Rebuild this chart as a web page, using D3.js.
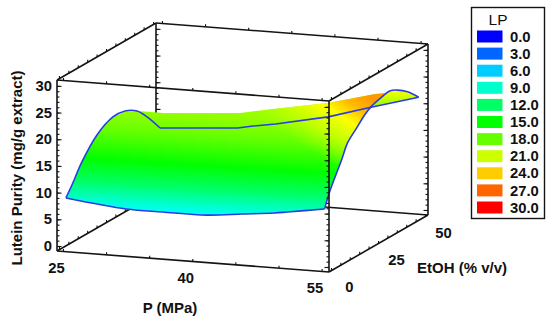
<!DOCTYPE html>
<html><head><meta charset="utf-8">
<script src="https://cdn.jsdelivr.net/npm/d3@7"></script>
<style>html,body{margin:0;padding:0;background:#fff}svg{display:block}text{font-family:"Liberation Sans",Arial,sans-serif;fill:#111}</style>
</head><body><div id="chart"></div>
<script>
// ---------- data ----------
const legendTitle = "LP";
const legendValues = [0,3,6,9,12,15,18,21,24,27,30];
const legendColors = ["#0000ff","#0066ff","#00ccff","#00ffcc","#00ff66","#00ff00","#66ff00","#ccff00","#ffcc00","#ff6600","#ff0000"];
const pTicks = [25,40,55];
const eTicks = [0,25,50];
const zTicks = [0,5,10,15,20,25,30];
const pLabel = "P (MPa)", eLabel = "EtOH (% v/v)", zLabel = "Lutein Purity (mg/g extract)";

// front edge, EtOH = 0
const frontP  = [25,32,36.2,41.3,45.5,49.2,50.7,55];
const frontLP = [8.83,7.64,7.6,7.65,8.37,9.03,9.4,10.5];
// edge at P = 25
const leftE  = [0,3.2,8.5,16.5,25,31.4,37.8,43.1,50];
const leftLP = [8.83,10.6,13.85,17.28,18.93,18.76,17.45,15.27,11.79];
// edge at P = 55
const rightE  = [0,2.66,9.04,12.2,17,21.3,25,30.3,34.6,38.8,44.1,50];
const rightLP = [10.5,13.15,17.85,20.4,22.2,23.8,24.7,25.3,25.6,24.9,23.5,21.3];
// back edge, EtOH = 50
const backP  = [25,34,35.8,38.4,44.5,49.2,55];
const backLP = [11.79,12.9,13.5,14.2,16.3,18.6,21.3];
// crest of the surface, seen as its upper silhouette, EtOH = 32
const crestE = 32;
const crestP  = [25,26.4,29.3,38.2,42.3,48.4,53.9,55];
const crestLP = [18.6,18.8,18.8,19.9,21.2,23.05,25.4,25.7];
// colour profile across the surface at P = 40
const profileE  = [0,1.5,2.5,9,22,35];
const profileLP = [7.65,9,12,15,18,19.5];
// warm colours towards the high-P crest
const warmLP  = [20,21,22.5,24.5,25.5];
const warmPos = [0,0.31,0.59,0.79,1];
const warmAlpha = [0,0.85,1,1,1];
const hiddenLP = [19,22.5];

// ---------- scales ----------
const W = 550, H = 324;
const origin = {x:57, y:251};
const xP = d3.scaleLinear([24.25,55.8],[0,272]);
const yP = d3.scaleLinear([24.25,55.8],[0,21]);
const xE = d3.scaleLinear([-1.3,51.3],[0,99]);
const yE = d3.scaleLinear([-1.3,51.3],[0,-57]);
const zS = d3.scaleLinear([-0.94,31.1],[0,-171]);
const color = d3.scaleLinear(legendValues, legendColors).interpolate(d3.interpolateHsl);
const [pMin,pMax] = xP.domain(), [eMin,eMax] = xE.domain(), [zMin,zMax] = zS.domain();
const proj = (p,e,z) => [origin.x + xP(p) + xE(e), origin.y + yP(p) + yE(e) + zS(z)];
const line = d3.line();
const smooth = d3.line().curve(d3.curveCatmullRom.alpha(0.5));

const svg = d3.select("#chart").append("svg").attr("width",W).attr("height",H);
const defs = svg.append("defs");

const front = frontP.map((p,i)=>proj(p,0,frontLP[i]));
const left  = leftE.map((e,i)=>proj(25,e,leftLP[i]));
const right = rightE.map((e,i)=>proj(55,e,rightLP[i]));
const back  = backP.map((p,i)=>proj(p,50,backLP[i]));
const crest = crestP.map((p,i)=>proj(p,crestE,crestLP[i]));

// ---------- box ----------
const boxColor = "#141414";
function edge(g,a,b){ g.append("path").attr("d",line([proj(...a),proj(...b)])).attr("fill","none").attr("stroke",boxColor).attr("stroke-width",1.6); }
function bumps(g,values,f){
  g.selectAll(null).data(values).join("path")
    .attr("d",v=>{const q=f(v);return line([q,[q[0],q[1]-2.5]]);})
    .attr("fill","none").attr("stroke",boxColor).attr("stroke-width",1.1);
}
function vertical(g,p,e,dir){
  const base = proj(p,e,zMin);
  const mk = dir>0 ? d3.axisRight : d3.axisLeft;
  const at = g.append("g").attr("transform",`translate(${base[0]},${base[1]})`);
  const a1 = at.append("g").call(mk(zS).tickValues(d3.range(0,31)).tickSize(2.5).tickFormat(""));
  const a2 = at.append("g").call(mk(zS).tickValues(zTicks).tickSize(4.5).tickFormat(""));
  [a1,a2].forEach(a=>{a.select(".domain").remove();a.selectAll("line").attr("stroke",boxColor).attr("stroke-width",1.1);});
  edge(g,[p,e,zMin],[p,e,zMax]);
}
const pMinor = d3.range(25,56,5), eMinor = d3.range(0,51,5);

const backLayer = svg.append("g");
vertical(backLayer,pMin,eMax,1);
vertical(backLayer,pMax,eMax,-1);
edge(backLayer,[pMin,eMin,zMin],[pMin,eMax,zMin]);
edge(backLayer,[pMin,eMax,zMin],[pMax,eMax,zMin]);
edge(backLayer,[pMax,eMin,zMin],[pMax,eMax,zMin]);
edge(backLayer,[pMin,eMin,zMax],[pMin,eMax,zMax]);
edge(backLayer,[pMin,eMax,zMax],[pMax,eMax,zMax]);
edge(backLayer,[pMax,eMin,zMax],[pMax,eMax,zMax]);
bumps(backLayer,pMinor,p=>proj(p,eMax,zMax));
bumps(backLayer,eMinor,e=>proj(pMin,e,zMax));
bumps(backLayer,eMinor,e=>proj(pMax,e,zMax));
bumps(backLayer,eMinor,e=>proj(pMin,e,zMin));
bumps(backLayer,eMinor,e=>proj(pMax,e,zMin));

// ---------- surface ----------
const profile = profileE.map((e,i)=>proj(40,e,profileLP[i]));
const y0 = profile[0][1], yN = profile[profile.length-1][1];
const tilt = 0.06;
const baseGrad = defs.append("linearGradient").attr("id","base").attr("gradientUnits","userSpaceOnUse")
  .attr("x1",profile[0][0]).attr("y1",y0).attr("x2",profile[0][0]+tilt*(y0-yN)).attr("y2",yN);
baseGrad.selectAll("stop").data(profile).join("stop")
  .attr("offset",(d,i)=>(y0-d[1])/(y0-yN)).attr("stop-color",(d,i)=>color(profileLP[i]));

const warmGrad = defs.append("linearGradient").attr("id","warm").attr("gradientUnits","userSpaceOnUse")
  .attr("x1",262).attr("y1",120).attr("x2",302.7).attr("y2",54.9);
warmGrad.selectAll("stop").data(warmLP).join("stop")
  .attr("offset",(d,i)=>warmPos[i]).attr("stop-color",d=>color(d)).attr("stop-opacity",(d,i)=>warmAlpha[i]);

const hidLow = proj(49.2,50,18.6), hidHigh = proj(55,38.8,24.9);
const hidGrad = defs.append("linearGradient").attr("id","hid").attr("gradientUnits","userSpaceOnUse")
  .attr("x1",0).attr("y1",hidLow[1]).attr("x2",0).attr("y2",hidHigh[1]);
hidGrad.selectAll("stop").data(hiddenLP).join("stop")
  .attr("offset",(d,i)=>i).attr("stop-color",d=>color(d));

// joined outline: each piece keeps the same curve as its drawn edge
const joinPaths = parts => parts.map((d,i)=> i? d.replace(/^M/,"L") : d).join("")+"Z";
const rightCut = rightE.findIndex(e=>e>crestE);
const leftCut = leftE.findIndex(e=>e>crestE-1);
const surfaceD = joinPaths([
  smooth(front),
  smooth(right.slice(0,rightCut)),
  line(crest.slice().reverse()),
  smooth(left.slice(0,leftCut).reverse())
]);
const surf = svg.append("g");
surf.append("path").attr("d",surfaceD).attr("fill","url(#base)");
surf.append("path").attr("d",surfaceD).attr("fill","url(#warm)");

const b1 = backP.findIndex(p=>p>=49.2);
const patchD = joinPaths([smooth(right.slice(6)), line(back.slice(b1).reverse())]);
surf.append("path").attr("d",patchD).attr("fill","url(#hid)");

const blue = "#2b3de0";
[[front,smooth],[left,smooth],[right,smooth],[back,line]].forEach(([pts,gen])=>{
  surf.append("path").attr("d",gen(pts)).attr("fill","none").attr("stroke",blue)
    .attr("stroke-width",1.6).attr("stroke-linejoin","round");
});

// ---------- front of box ----------
const frontLayer = svg.append("g");
vertical(frontLayer,pMin,eMin,1);
vertical(frontLayer,pMax,eMin,-1);
edge(frontLayer,[pMin,eMin,zMin],[pMax,eMin,zMin]);
edge(frontLayer,[pMin,eMin,zMax],[pMax,eMin,zMax]);
bumps(frontLayer,pMinor,p=>proj(p,eMin,zMin));
bumps(frontLayer,pMinor,p=>proj(p,eMin,zMax));

// ---------- labels ----------
const fs = 14.8, fsTitle = 15;
function label(t,x,y,anchor,size){ return svg.append("text").attr("x",x).attr("y",y).attr("dy","0.35em")
  .attr("text-anchor",anchor||"middle").attr("font-size",size||fs).attr("font-weight","bold").text(t); }
zTicks.forEach(v=>label(v,52,origin.y+zS(v),"end"));
pTicks.forEach(v=>{const q=proj(v,0,zMin);label(v,q[0]-9.5,q[1]+18);});
eTicks.forEach(v=>{const q=proj(pMax,v,zMin);label(v,q[0]+18,q[1]+16.5);});
label(pLabel,170,308,"middle",fsTitle);
label(eLabel,462,268,"middle",fsTitle);
svg.append("text").attr("transform","translate(17,168) rotate(-90)").attr("dy","0.35em")
  .attr("text-anchor","middle").attr("font-size",fsTitle).attr("font-weight","bold").text(zLabel);

// ---------- legend ----------
const legY = d3.scaleLinear([0,10],[36.5,207.5]);
const leg = svg.append("g");
leg.append("rect").attr("x",471.5).attr("y",7.5).attr("width",73).attr("height",211)
  .attr("fill","#fff").attr("stroke",boxColor).attr("stroke-width",1.4);
leg.append("text").attr("x",498).attr("y",20).attr("dy","0.35em").attr("text-anchor","middle")
  .attr("font-size",15.5).text(legendTitle);
leg.selectAll("rect.s").data(legendValues).join("rect").attr("class","s")
  .attr("x",477).attr("y",(d,i)=>legY(i)-6).attr("width",25.5).attr("height",12)
  .attr("fill",(d,i)=>legendColors[i]);
leg.selectAll("text.v").data(legendValues).join("text").attr("class","v")
  .attr("x",510).attr("y",(d,i)=>legY(i)).attr("dy","0.35em")
  .attr("font-size",fs).attr("font-weight","bold").text(d=>d.toFixed(1));
</script>
</body></html>
